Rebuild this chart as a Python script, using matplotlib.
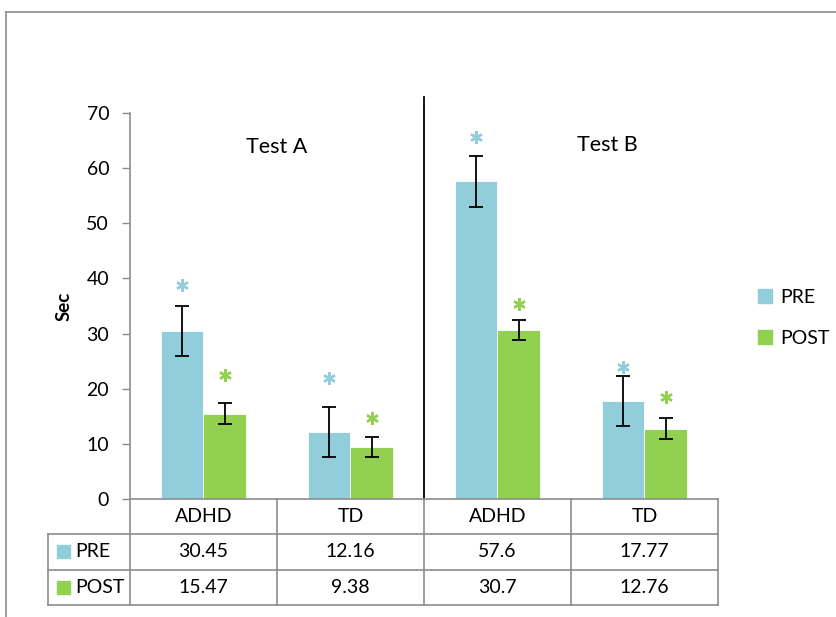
import numpy as np
import matplotlib.pyplot as plt
from matplotlib.lines import Line2D
from matplotlib.patches import Patch, Rectangle

plt.rcParams['font.family'] = ['Lato', 'DejaVu Sans']

groups = ['ADHD', 'TD', 'ADHD', 'TD']
pre = [30.45, 12.16, 57.6, 17.77]
post = [15.47, 9.38, 30.7, 12.76]
pre_err = [4.6, 4.6, 4.65, 4.6]
post_err = [1.85, 1.85, 1.85, 1.9]
# significance star heights
star_pre = [38.8, 21.9, 65.7, 24.0]
star_post = [22.4, 14.6, 35.4, 18.5]
tests = ['Test A', 'Test B']

c_pre = '#92CDDC'
c_post = '#92D050'
grid_c = '#8c8c8c'

fig = plt.figure(figsize=(8.37, 6.17), dpi=100)
ax = fig.add_axes([130/837, 1-499/617, 588/837, 386/617])

x = np.arange(len(groups))
w = 0.286
ax.bar(x - w/2, pre, w, color=c_pre, edgecolor='white', linewidth=0.6,
       yerr=pre_err, capsize=5, error_kw=dict(elinewidth=1.3, capthick=1.3, ecolor='black'))
ax.bar(x + w/2, post, w, color=c_post, edgecolor='white', linewidth=0.6,
       yerr=post_err, capsize=5, error_kw=dict(elinewidth=1.3, capthick=1.3, ecolor='black'))

ax.plot(x - w/2, star_pre, linestyle='none', marker=(6, 2, 0), markersize=9,
        mew=1.7, color=c_pre)
ax.plot(x + w/2, star_post, linestyle='none', marker=(6, 2, 0), markersize=9,
        mew=1.7, color=c_post)

ax.set_xlim(-0.5, 3.5)
ax.set_ylim(0, 70)
ax.set_yticks(range(0, 71, 10))
ax.tick_params(axis='y', labelsize=14, color=grid_c, length=6, width=1, pad=9)
ax.set_xticks([])
for s in ['top', 'right']:
    ax.spines[s].set_visible(False)
for s in ['left', 'bottom']:
    ax.spines[s].set_color(grid_c)
    ax.spines[s].set_linewidth(1.2)
ax.set_ylabel('Sec', fontsize=13.5, fontweight='bold', labelpad=10)

# divider between tests
ax.plot([1.5, 1.5], [0, 72.9], color='black', linewidth=1.3, clip_on=False)
ax.text(0.5, 63.8, tests[0], fontsize=15.5, ha='center', va='center')
ax.text(2.75, 64.2, tests[1], fontsize=15.5, ha='center', va='center')

# data table under the axis
tr = ax.get_xaxis_transform()
rh = 35.3 / 386
left = -0.5 - 82/147
for k in range(1, 4):
    ax.plot([left, 3.5], [-k*rh, -k*rh], color=grid_c, lw=1.2, transform=tr, clip_on=False)
for xv in np.arange(-0.5, 3.6, 1):
    ax.plot([xv, xv], [0, -3*rh], color=grid_c, lw=1.2, transform=tr, clip_on=False)
ax.plot([left, left], [-rh, -3*rh], color=grid_c, lw=1.2, transform=tr, clip_on=False)

for i in range(len(groups)):
    ax.text(x[i], -0.5*rh, groups[i], transform=tr, ha='center', va='center', fontsize=14)
    ax.text(x[i], -1.5*rh, f'{pre[i]:g}', transform=tr, ha='center', va='center', fontsize=14)
    ax.text(x[i], -2.5*rh, f'{post[i]:g}', transform=tr, ha='center', va='center', fontsize=14)

for j, (lab, col) in enumerate([('PRE', c_pre), ('POST', c_post)]):
    yy = -(1.5 + j)*rh
    ax.add_patch(Rectangle((left + 9/147, yy - 6.5/386), 13/147, 13/386, color=col,
                           transform=tr, clip_on=False))
    ax.text(left + 27/147, yy, lab, transform=tr, ha='left', va='center', fontsize=14)

handles = [Patch(color=c_pre, label='PRE'), Patch(color=c_post, label='POST')]
fig.legend(handles=handles, loc='center left', bbox_to_anchor=(748/837, 1-318/617),
           frameon=False, fontsize=14, labelspacing=1.25, handlelength=0.75, handleheight=0.75,
           handletextpad=0.4, borderpad=0)

# outer border
fig.add_artist(Line2D([6/837, 1], [1-12/617, 1-12/617], color=grid_c, lw=1.2))
fig.add_artist(Line2D([6/837, 6/837], [0, 1-12/617], color=grid_c, lw=1.2))

fig.savefig('out.png', dpi=100)
